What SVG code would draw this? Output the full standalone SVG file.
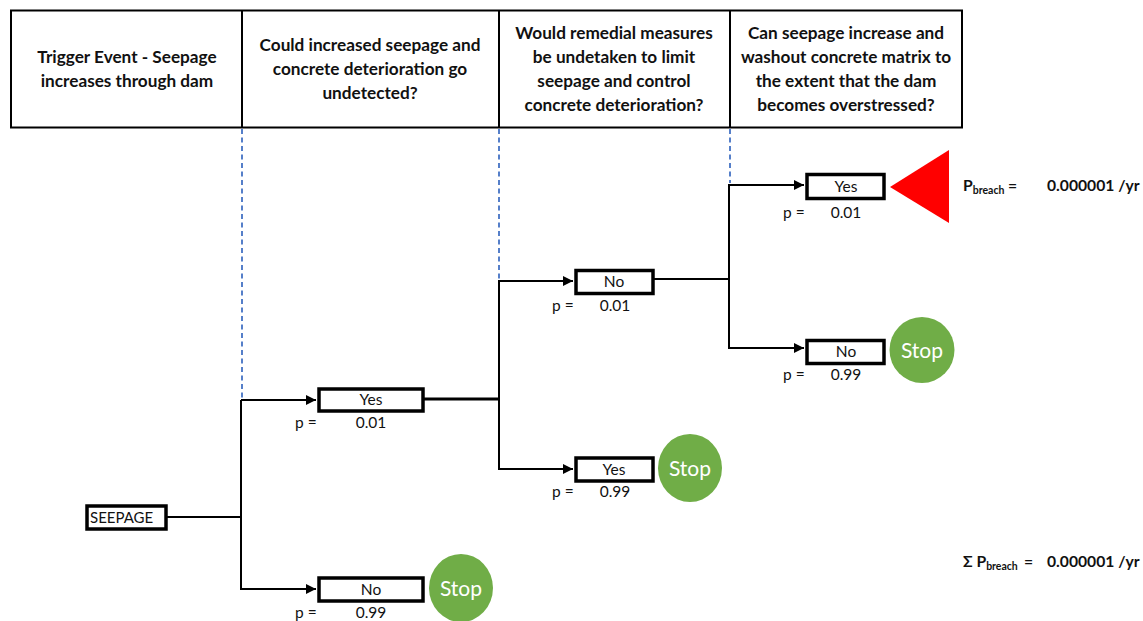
<svg xmlns="http://www.w3.org/2000/svg" width="1143" height="621" viewBox="0 0 1143 621">
<defs>
<marker id="arr" viewBox="0 0 10 10" refX="10" refY="5" markerWidth="5" markerHeight="5" orient="auto" markerUnits="strokeWidth">
<path d="M0,0 L10,5 L0,10 z" fill="#000"/>
</marker>
<style>
.hdr{font-family:Lato,"Liberation Sans",sans-serif;font-weight:bold;font-size:17.2px;fill:#111;text-anchor:middle}
.lbl{font-family:Lato,"Liberation Sans",sans-serif;font-size:15.5px;fill:#111}
.mid{text-anchor:middle}
.box{fill:#fff;stroke:#000;stroke-width:3.5}
.ln{fill:none;stroke:#000;stroke-width:2}
.dash{stroke:#4472C4;stroke-width:1.8;stroke-dasharray:5,3.5}
.stop{fill:#70AD47}
.stopt{font-family:Lato,"Liberation Sans",sans-serif;font-size:21px;fill:#fff;text-anchor:middle}
.res{font-family:Lato,"Liberation Sans",sans-serif;font-weight:bold;font-size:15.7px;fill:#111}
.sub{font-size:10.5px}
</style>
</defs>
<rect width="1143" height="621" fill="#fff"/>
<g id="header">
<rect x="11" y="10.5" width="951" height="117" fill="#fff" stroke="#000" stroke-width="2"/>
<line x1="242" y1="10.5" x2="242" y2="127.5" stroke="#000" stroke-width="2"/>
<line x1="499" y1="10.5" x2="499" y2="127.5" stroke="#000" stroke-width="2"/>
<line x1="730" y1="10.5" x2="730" y2="127.5" stroke="#000" stroke-width="2"/>
<text class="hdr" x="127" y="63">Trigger Event - Seepage</text>
<text class="hdr" x="127" y="87">increases through dam</text>
<text class="hdr" x="370" y="51">Could increased seepage and</text>
<text class="hdr" x="370" y="75">concrete deterioration go</text>
<text class="hdr" x="370" y="99">undetected?</text>
<text class="hdr" x="614" y="39">Would remedial measures</text>
<text class="hdr" x="614" y="63">be undetaken to limit</text>
<text class="hdr" x="614" y="87">seepage and control</text>
<text class="hdr" x="614" y="111">concrete deterioration?</text>
<text class="hdr" x="846" y="39">Can seepage increase and</text>
<text class="hdr" x="846" y="63">washout concrete matrix to</text>
<text class="hdr" x="846" y="87">the extent that the dam</text>
<text class="hdr" x="846" y="111">becomes overstressed?</text>
</g>
<g id="connectors">
<line class="dash" x1="242" y1="129" x2="242" y2="398"/>
<line class="dash" x1="499" y1="129" x2="499" y2="279"/>
<line class="dash" x1="730" y1="129" x2="730" y2="183"/>
<path class="ln" d="M166,517 H241"/>
<path class="ln" d="M241,400 V590"/>
<path class="ln" d="M241,400 H316" marker-end="url(#arr)"/>
<path class="ln" d="M241,589 H316" marker-end="url(#arr)"/>
<path class="ln" d="M423,399 H499" style="stroke-width:3"/>
<path class="ln" d="M499,280 V470"/>
<path class="ln" d="M499,281 H573" marker-end="url(#arr)"/>
<path class="ln" d="M499,469 H573" marker-end="url(#arr)"/>
<path class="ln" d="M654,279 H729"/>
<path class="ln" d="M729,184 V349"/>
<path class="ln" d="M729,185 H804" marker-end="url(#arr)"/>
<path class="ln" d="M729,348 H804" marker-end="url(#arr)"/>
</g>
<g id="seepage">
<rect class="box" x="87" y="506" width="79" height="23"/>
<text class="lbl" x="90" y="522.5" style="font-size:15px">SEEPAGE</text>
</g>
<g id="n1-yes">
<rect class="box" x="319" y="389" width="104" height="22"/>
<text class="lbl mid" x="371" y="405">Yes</text>
<text class="lbl" x="295" y="428">p =</text>
<text class="lbl mid" x="371" y="428">0.01</text>
</g>
<g id="n1-no">
<rect class="box" x="319" y="578" width="104" height="23"/>
<text class="lbl mid" x="371" y="594.5">No</text>
<text class="lbl" x="295" y="618">p =</text>
<text class="lbl mid" x="371" y="618">0.99</text>
</g>
<g id="stop1">
<ellipse class="stop" cx="461" cy="588" rx="32" ry="34"/>
<text class="stopt" x="461" y="595.5">Stop</text>
</g>
<g id="n2-no">
<rect class="box" x="576" y="270.5" width="77" height="23"/>
<text class="lbl mid" x="614" y="287">No</text>
<text class="lbl" x="552" y="311">p =</text>
<text class="lbl mid" x="615" y="311">0.01</text>
</g>
<g id="n2-yes">
<rect class="box" x="576" y="458" width="77" height="23"/>
<text class="lbl mid" x="614" y="475">Yes</text>
<text class="lbl" x="552" y="497">p =</text>
<text class="lbl mid" x="615" y="497">0.99</text>
</g>
<g id="stop2">
<ellipse class="stop" cx="690" cy="468" rx="32" ry="34"/>
<text class="stopt" x="690" y="475.5">Stop</text>
</g>
<g id="n3-yes">
<rect class="box" x="807" y="174.5" width="77" height="24"/>
<text class="lbl mid" x="846" y="192">Yes</text>
<text class="lbl" x="783" y="218">p =</text>
<text class="lbl mid" x="846" y="218">0.01</text>
</g>
<g id="n3-no">
<rect class="box" x="807" y="340.5" width="77" height="23"/>
<text class="lbl mid" x="846" y="357">No</text>
<text class="lbl" x="783" y="380">p =</text>
<text class="lbl mid" x="846" y="380">0.99</text>
</g>
<g id="stop3">
<ellipse class="stop" cx="922" cy="350" rx="32.5" ry="33"/>
<text class="stopt" x="922" y="357.5">Stop</text>
</g>
<g id="breach">
<polygon points="890,187 949,150 949,223" fill="#ff0000"/>
<text class="res" x="963" y="191">P<tspan class="sub" dy="3">breach</tspan><tspan x="1008" dy="-3">=</tspan></text>
<text class="res" x="1047" y="191">0.000001 /yr</text>
</g>
<g id="total">
<text class="res" x="963" y="567">Σ P<tspan class="sub" dy="3">breach</tspan><tspan x="1024" dy="-3">=</tspan></text>
<text class="res" x="1047" y="567">0.000001 /yr</text>
</g>
</svg>
